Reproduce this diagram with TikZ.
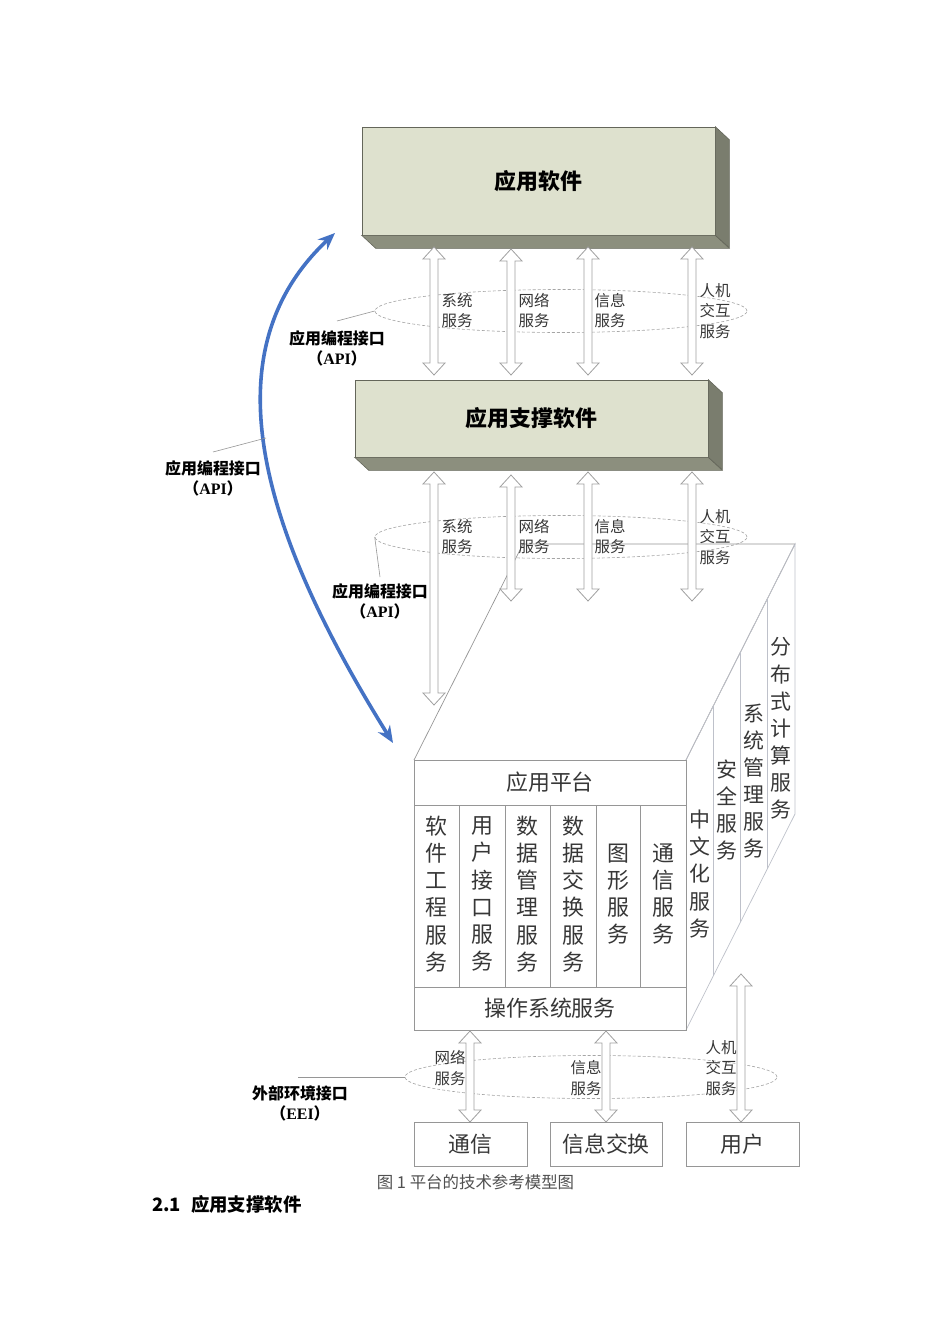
\documentclass[tikz,border=0pt]{standalone}
\usepackage{fontspec}
\setmainfont{Noto Sans CJK SC}
\newfontfamily\lserif{Liberation Serif}
\usetikzlibrary{arrows.meta,calc,shapes.geometric}

\definecolor{boxfront}{RGB}{222,225,206}
\definecolor{boxbottom}{RGB}{140,143,126}
\definecolor{boxside}{RGB}{122,125,110}
\definecolor{boxedge}{RGB}{100,102,90}
\definecolor{pgray}{RGB}{150,150,150}
\definecolor{sgray}{RGB}{190,193,202}
\definecolor{agray}{RGB}{160,160,160}
\definecolor{egray}{RGB}{165,165,165}
\definecolor{bluearc}{RGB}{68,114,196}
\definecolor{txtgray}{RGB}{55,55,55}
\definecolor{captgray}{RGB}{80,80,80}

\newcommand\harr[3]{%
 \draw[harrow] (#1-4,#2+12) -- (#1-11,#2+12) -- (#1,#2) -- (#1+11,#2+12) -- (#1+4,#2+12)
   -- (#1+4,#3-12) -- (#1+11,#3-12) -- (#1,#3) -- (#1-11,#3-12) -- (#1-4,#3-12) -- cycle;}

\tikzset{
 gbox/.style={draw=boxedge, fill=boxfront, line width=0.6bp, inner sep=0pt,
   font=\fontsize{22}{26}\selectfont\bfseries},
 bface/.style={draw=boxedge, fill=boxbottom, line width=0.6bp},
 sface/.style={draw=boxedge, fill=boxside, line width=0.6bp},
 harrow/.style={draw=agray, fill=white, line width=0.8bp},
 ell/.style={ellipse, draw=egray, dash pattern=on 3bp off 2bp, line width=0.6bp, inner sep=0pt},
 elabel/.style={font=\fontsize{15.5}{20.5}\selectfont, text=txtgray, align=center, inner sep=0pt},
 blabel/.style={font=\fontsize{16}{20}\selectfont\bfseries, align=center, inner sep=0pt},
 leader/.style={draw=pgray, line width=0.6bp},
 pline/.style={draw=pgray, line width=0.7bp},
 sline/.style={draw=sgray, line width=0.7bp},
 coltext/.style={font=\fontsize{22}{27.2}\selectfont, text=txtgray, align=center, inner sep=0pt},
 sidetext/.style={font=\fontsize{21}{27.2}\selectfont, text=txtgray, align=center, inner sep=0pt},
 wbox/.style={draw=pgray, line width=0.7bp, inner sep=0pt, minimum height=44bp,
   font=\fontsize{22}{26}\selectfont, text=txtgray},
 bluecurve/.style={draw=bluearc, line width=3.6bp,
   {Stealth[length=17bp,width=14bp]}-{Stealth[length=17bp,width=14bp]}}
}

\begin{document}
\begin{tikzpicture}[x=1bp,y=-1bp]
\useasboundingbox (0,0) rectangle (950,1344);
\fill[white] (0,0) rectangle (950,1344);

% ---------- box 1: application software
\node[gbox, minimum width=353bp, minimum height=108bp] (app) at (538.5,181) {应用软件};
\filldraw[bface] (app.south west) -- (app.south east) -- ++(14,13) -- ($(app.south west)+(14,13)$) -- cycle;
\filldraw[sface] (app.north east) -- ++(14,13) -- ++(0,108) -- (app.south east) -- cycle;

% ---------- box 2: application support software
\node[gbox, minimum width=353bp, minimum height=77bp] (sup) at (531.5,418.5) {应用支撑软件};
\filldraw[bface] (sup.south west) -- (sup.south east) -- ++(14,13) -- ($(sup.south west)+(14,13)$) -- cycle;
\filldraw[sface] (sup.north east) -- ++(14,13) -- ++(0,77) -- (sup.south east) -- cycle;

% ---------- platform (3D box)
\coordinate (ftl) at (414,760);
\coordinate (ftr) at (686,760);
\coordinate (fbr) at (686,1030);
\coordinate (btl) at (523,544);
\coordinate (btr) at (795,544);
\coordinate (bbr) at (795,814);
\draw[pline] (ftl) -- (btl) -- (btr) -- (ftr);
\draw[sline] (ftr) -- (btr) -- (bbr) -- (fbr);
\foreach \t in {0.25,0.5,0.75}
  \draw[sline] ($(ftr)!\t!(btr)$) -- ($(fbr)!\t!(bbr)$);

\node[draw=pgray, line width=0.7bp, minimum width=272bp, minimum height=270bp, inner sep=0pt] (front) at (550,895) {};
\draw[pline] (414,805) -- (686,805);
\draw[pline] (414,987) -- (686,987);
\foreach \xx in {459,505,550,596,640}
  \draw[pline] (\xx,805) -- (\xx,987);

\node[coltext] (plat) at (550,782.5) {应用平台};
\node[coltext] (os) at (550,1008.5) {操作系统服务};
\node[coltext] (c1) at (436.5,894) {软\\件\\工\\程\\服\\务};
\node[coltext] (c2) at (482,894) {用\\户\\接\\口\\服\\务};
\node[coltext] (c3) at (527.5,894) {数\\据\\管\\理\\服\\务};
\node[coltext] (c4) at (573,894) {数\\据\\交\\换\\服\\务};
\node[coltext] (c5) at (618,894) {图\\形\\服\\务};
\node[coltext] (c6) at (663,894) {通\\信\\服\\务};

\node[sidetext] (s1) at (700,874) {中\\文\\化\\服\\务};
\node[sidetext] (s2) at (727,810) {安\\全\\服\\务};
\node[sidetext] (s3) at (754,781) {系\\统\\管\\理\\服\\务};
\node[sidetext] (s4) at (781,728.5) {分\\布\\式\\计\\算\\服\\务};

% ---------- dashed ellipses
\node[ell, minimum width=372bp, minimum height=43bp] (e1) at (561,311) {};
\node[ell, minimum width=372bp, minimum height=43bp] (e2) at (561,537) {};
\node[ell, minimum width=372bp, minimum height=43bp] (e3) at (591,1077) {};

% ---------- hollow double arrows
\harr{434}{247}{375}
\harr{511}{249}{375}
\harr{588}{247}{375}
\harr{692}{247}{375}

\harr{434}{472}{705}
\harr{511}{475}{601}
\harr{588}{472}{601}
\harr{692}{472}{601}

\harr{470}{1031}{1122}
\harr{606}{1031}{1122}
\harr{741}{974}{1122}

% ---------- ellipse labels
\node[elabel] at (457,310.5) {系统\\服务};
\node[elabel] at (534,310.5) {网络\\服务};
\node[elabel] at (610,310.5) {信息\\服务};
\node[elabel] at (715,311) {人机\\交互\\服务};

\node[elabel] at (457,536.5) {系统\\服务};
\node[elabel] at (534,536.5) {网络\\服务};
\node[elabel] at (610,536.5) {信息\\服务};
\node[elabel] at (715,537) {人机\\交互\\服务};

\node[elabel] at (450,1068) {网络\\服务};
\node[elabel] at (586,1078) {信息\\服务};
\node[elabel] at (721,1068) {人机\\交互\\服务};

% ---------- bottom boxes
\node[wbox, minimum width=113bp] (comm) at (470.5,1144) {通信};
\node[wbox, minimum width=112bp] (info) at (606,1144) {信息交换};
\node[wbox, minimum width=113bp] (user) at (742.5,1144) {用户};

% ---------- blue API curve
\draw[bluecurve] (393,743) .. controls (257,525) and (210,350) .. (335,233);

% ---------- interface labels
\node[blabel] (api1) at (337,348) {应用编程接口\\（{\lserif\bfseries API}）};
\coordinate (l1) at (337,321);
\draw[leader] (l1) -- (e1.west);

\node[blabel] (api2) at (213,478.5) {应用编程接口\\（{\lserif\bfseries API}）};
\coordinate (l2a) at (213,452);
\coordinate (l2b) at (266,438);
\draw[leader] (l2a) -- (l2b);

\node[blabel] (api3) at (380,601) {应用编程接口\\（{\lserif\bfseries API}）};
\coordinate (l3) at (380,577);
\draw[leader] (e2.west) -- (l3);

\node[blabel] (eei) at (300,1103) {外部环境接口\\（{\lserif\bfseries EEI}）};
\coordinate (l4) at (298,1077);
\draw[leader] (l4) -- (e3.west);

% ---------- caption and heading
\node[font=\fontsize{16.5}{19}\selectfont, text=captgray, inner sep=0pt] (cap) at (475.5,1182) {图 1 平台的技术参考模型图};
\node[font=\fontsize{18.5}{22}\selectfont\bfseries, anchor=west, inner sep=0pt] (head) at (152,1204) {2.1\hspace{10bp}应用支撑软件};
\end{tikzpicture}
\end{document}
